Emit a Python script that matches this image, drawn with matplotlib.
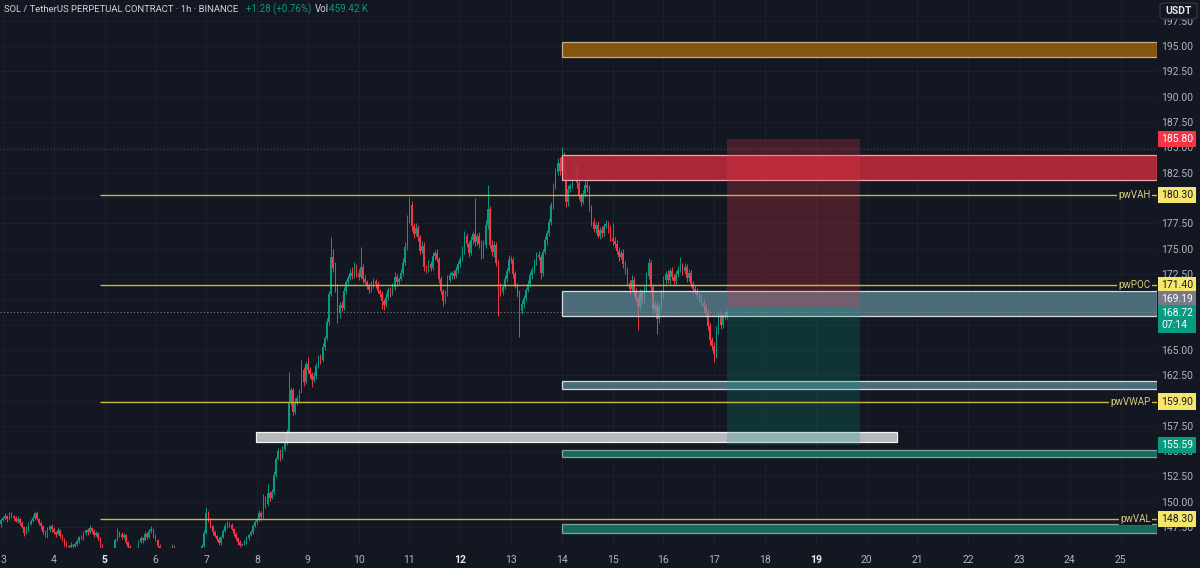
import numpy as np
import matplotlib
matplotlib.use("Agg")
import matplotlib.pyplot as plt
from matplotlib.patches import Rectangle, FancyBboxPatch

# ---- hourly candles, SOL/USDT perp (closes, wick lengths in tenths) ----
start_day = 2 + 22 / 24
first_open = 147.6

c02 = [147.8, 148.2]
u02 = [3, 2]
l02 = [2, 3]

c03 = [148.4, 148.6, 148.3, 148.8, 148.6, 148.4, 148.1, 148.3, 147.9, 147.5, 146.9, 147.3,
       147.8, 148.1, 148.4, 148.9, 148.3, 147.9, 147.6, 147.0, 146.6, 147.2, 147.6, 147.3]
u03 = [2, 3, 1, 2, 2, 1, 2, 3, 1, 2, 1, 3, 2, 2, 3, 1, 2, 1, 2, 1, 2, 3, 1, 2]
l03 = [1, 2, 3, 1, 2, 3, 1, 2, 2, 1, 3, 1, 2, 1, 1, 2, 1, 2, 3, 2, 1, 2, 2, 3]

c04 = [147.0, 146.8, 147.2, 146.6, 146.3, 145.9, 145.6, 145.5, 145.7, 145.6, 145.8, 146.1,
       146.5, 146.4, 146.9, 147.2, 147.0, 147.4, 147.1, 146.7, 146.9, 146.4, 145.6, 145.0]
u04 = [2, 1, 3, 1, 2, 1, 2, 1, 3, 1, 2, 2, 1, 2, 2, 1, 2, 3, 1, 2, 2, 1, 1, 2]
l04 = [2, 3, 1, 2, 2, 3, 1, 2, 1, 2, 1, 2, 2, 1, 2, 2, 3, 1, 2, 2, 1, 3, 2, 1]

c05 = [144.7, 144.5, 144.8, 144.6, 145.1, 146.2, 147.0, 146.8, 146.5, 146.7, 146.0, 145.5,
       144.9, 144.6, 144.8, 145.2, 146.0, 146.4, 146.2, 146.8, 146.5, 147.1, 147.3, 146.6]
u05 = [1, 2, 2, 1, 3, 2, 4, 1, 2, 2, 1, 1, 2, 1, 2, 3, 2, 2, 1, 3, 2, 2, 3, 1]
l05 = [2, 1, 2, 2, 1, 2, 1, 3, 2, 1, 2, 2, 1, 2, 1, 1, 2, 1, 3, 1, 2, 1, 2, 2]

c06 = [146.2, 145.6, 145.0, 144.6, 144.3, 144.5, 144.8, 145.2, 145.6, 145.0, 144.6, 144.3,
       144.1, 144.4, 144.2, 144.0, 143.8, 144.1, 144.3, 144.0, 144.3, 144.8, 145.6, 146.9]
u06 = [2, 1, 2, 1, 2, 2, 1, 3, 2, 1, 2, 1, 2, 2, 1, 2, 1, 2, 2, 1, 2, 3, 2, 3]
l06 = [1, 2, 2, 3, 1, 2, 2, 1, 2, 2, 1, 2, 1, 1, 2, 1, 2, 1, 2, 2, 1, 1, 2, 1]

c07 = [148.9, 148.2, 147.6, 147.0, 146.6, 146.3, 145.9, 146.5, 147.1, 147.6, 147.9, 147.7,
       147.3, 146.8, 146.4, 146.0, 145.7, 145.8, 146.0, 146.4, 146.7, 147.0, 147.6, 148.0]
u07 = [6, 2, 2, 1, 2, 1, 2, 1, 2, 3, 2, 1, 2, 1, 2, 1, 2, 1, 2, 2, 1, 2, 2, 2]
l07 = [1, 2, 2, 3, 1, 2, 2, 2, 1, 1, 2, 2, 1, 2, 2, 3, 2, 1, 1, 2, 2, 1, 2, 1]

c08 = [148.2, 148.9, 148.5, 150.3, 149.8, 150.9, 150.4, 151.0, 152.6, 154.2, 155.0, 154.4,
       155.2, 155.9, 156.8, 159.8, 161.0, 158.9, 159.8, 160.2, 160.9, 163.0, 161.8, 163.6]
u08 = [2, 3, 2, 5, 3, 9, 2, 3, 4, 2, 3, 2, 3, 2, 4, 30, 3, 2, 4, 3, 2, 10, 3, 3]
l08 = [2, 1, 3, 1, 4, 2, 3, 1, 2, 2, 1, 4, 2, 2, 3, 2, 3, 3, 2, 2, 3, 2, 4, 2]

c09 = [163.0, 162.6, 162.0, 162.4, 163.4, 164.3, 164.0, 165.3, 166.2, 167.8, 170.5, 174.2,
       173.1, 171.0, 168.6, 169.4, 169.1, 170.8, 171.7, 172.1, 172.6, 172.3, 173.2, 172.6]
u09 = [7, 3, 2, 4, 3, 2, 3, 4, 2, 3, 3, 19, 8, 6, 5, 3, 4, 4, 2, 3, 4, 6, 5, 3]
l09 = [3, 4, 7, 2, 3, 2, 4, 2, 3, 2, 3, 2, 4, 3, 9, 5, 3, 2, 3, 4, 2, 3, 2, 4]

c10 = [172.2, 173.2, 172.0, 171.7, 171.3, 170.9, 171.4, 171.8, 171.5, 170.8, 170.5, 169.8,
       169.4, 170.2, 170.9, 170.6, 171.2, 172.2, 171.7, 172.0, 172.6, 173.6, 175.2, 177.8]
u10 = [4, 20, 3, 4, 2, 3, 4, 3, 2, 3, 2, 3, 2, 4, 3, 3, 4, 5, 3, 2, 4, 5, 4, 5]
l10 = [3, 2, 4, 2, 3, 3, 2, 3, 4, 2, 3, 8, 5, 2, 3, 4, 2, 3, 4, 3, 2, 3, 2, 3]

c11 = [179.3, 177.2, 176.4, 177.0, 176.1, 174.8, 175.3, 173.2, 172.9, 173.5, 173.1, 174.3,
       174.6, 174.0, 172.0, 170.8, 169.8, 170.6, 171.9, 172.4, 172.6, 172.3, 172.9, 173.5]
u11 = [8, 4, 3, 5, 3, 2, 4, 3, 2, 4, 3, 4, 3, 4, 2, 3, 2, 3, 5, 3, 2, 3, 4, 3]
l11 = [3, 5, 4, 2, 4, 3, 2, 4, 3, 2, 3, 2, 4, 3, 4, 3, 5, 2, 3, 2, 4, 3, 2, 3]

c12 = [174.0, 174.9, 176.2, 175.5, 174.6, 175.8, 176.4, 175.6, 176.2, 175.5, 174.3, 175.4,
       177.3, 178.9, 175.4, 174.7, 175.4, 173.6, 171.2, 170.7, 171.2, 172.0, 172.8, 173.9]
u12 = [3, 4, 5, 3, 2, 4, 3, 36, 3, 4, 3, 4, 5, 24, 3, 4, 3, 2, 3, 4, 3, 4, 3, 5]
l12 = [3, 2, 4, 3, 4, 2, 3, 3, 2, 4, 3, 2, 3, 4, 3, 4, 5, 3, 29, 4, 3, 2, 3, 2]

c13 = [173.9, 172.5, 171.4, 170.6, 168.8, 169.5, 170.1, 170.9, 171.5, 172.4, 172.9, 173.6,
       174.4, 174.2, 172.6, 174.7, 175.8, 176.5, 177.6, 179.3, 181.2, 182.6, 183.4, 182.7]
u13 = [4, 3, 3, 2, 3, 4, 3, 2, 4, 3, 3, 4, 3, 4, 3, 3, 4, 3, 4, 3, 3, 4, 5, 6]
l13 = [3, 4, 3, 4, 25, 3, 4, 3, 2, 3, 4, 3, 2, 3, 6, 3, 2, 4, 3, 3, 4, 3, 3, 4]

c14 = [184.0, 182.8, 179.6, 180.9, 181.2, 182.6, 183.2, 181.5, 180.2, 179.6, 180.4, 181.3,
       181.0, 179.0, 177.6, 176.9, 177.3, 176.2, 176.8, 176.5, 177.2, 177.4, 176.9, 176.0]
u14 = [10, 5, 3, 4, 3, 5, 4, 3, 4, 3, 4, 5, 4, 3, 3, 4, 3, 4, 3, 4, 3, 4, 3, 4]
l14 = [4, 3, 5, 4, 3, 2, 4, 5, 3, 4, 2, 3, 4, 3, 4, 3, 4, 2, 3, 4, 3, 2, 4, 3]

c15 = [175.7, 175.5, 174.8, 174.2, 174.6, 173.5, 172.8, 171.6, 171.0, 171.9, 170.7, 170.0,
       169.2, 170.6, 169.9, 171.0, 172.3, 173.6, 171.2, 169.0, 169.4, 168.0, 169.2, 170.4]
u15 = [15, 4, 3, 4, 3, 4, 3, 4, 3, 5, 3, 4, 3, 4, 3, 4, 4, 5, 3, 3, 4, 3, 4, 5]
l15 = [3, 4, 3, 4, 2, 4, 3, 3, 5, 3, 4, 3, 22, 3, 4, 3, 2, 3, 4, 5, 3, 14, 3, 3]

c16 = [171.9, 172.5, 171.9, 172.8, 172.2, 171.8, 172.5, 172.9, 173.3, 172.8, 173.2, 172.1,
       172.6, 171.5, 171.0, 170.8, 170.4, 170.1, 169.6, 169.2, 168.5, 167.4, 166.0, 165.4]
u16 = [4, 3, 4, 3, 4, 3, 3, 4, 9, 3, 4, 3, 4, 3, 3, 4, 3, 3, 4, 3, 3, 4, 3, 3]
l16 = [3, 4, 3, 4, 3, 4, 3, 3, 2, 4, 3, 4, 3, 3, 4, 3, 3, 4, 3, 4, 3, 4, 5, 4]

c17 = [164.6, 166.9, 168.4, 167.5, 168.2, 168.3, 168.72]
u17 = [4, 5, 3, 4, 3, 4, 2]
l17 = [8, 4, 3, 4, 3, 3, 3]

closes_by_day = [c02, c03, c04, c05, c06, c07, c08, c09, c10, c11, c12, c13, c14, c15, c16, c17]
upper_by_day = [u02, u03, u04, u05, u06, u07, u08, u09, u10, u11, u12, u13, u14, u15, u16, u17]
lower_by_day = [l02, l03, l04, l05, l06, l07, l08, l09, l10, l11, l12, l13, l14, l15, l16, l17]

# ---- drawings ----
levels = [("pwVAH", 180.30), ("pwPOC", 171.40), ("pwVWAP", 159.90), ("pwVAL", 148.30)]
level_start = 4.91

# (x0, x1, low, high, face, edge, alpha)
zones = [
    (14.0, None, 193.9, 195.4, '#85540f', '#bfae95', 1.0),
    (14.0, None, 181.8, 184.25, '#b8293b', '#e7a4ac', 0.92),
    (14.0, None, 168.35, 170.8, '#6e9fb0', '#d5dde0', 0.62),
    (14.0, None, 161.15, 161.95, '#6e9fb0', '#d5dde0', 0.62),
    (7.98, 20.6, 155.9, 156.9, '#cacbcf', '#f2f2f2', 0.9),
    (14.0, None, 154.45, 155.12, '#17695a', '#86a39f', 1.0),
    (14.0, None, 146.95, 147.82, '#17695a', '#86a39f', 1.0),
]

pos_x0, pos_x1 = 17.25, 19.87
stop_price, entry_price, target_price = 185.80, 169.19, 155.59
last_price = 168.72
high_line = 184.85

day_ticks = list(range(3, 26))
bold_days = [5, 12, 19]
price_ticks = np.arange(147.5, 197.6, 2.5)
hidden_prices = [160.0, 167.5, 170.0, 180.0]   # covered by the price badges

BG = '#131722'
GRID = '#1b1f2b'
TXT = '#b2b5be'
UP = '#089981'
DOWN = '#f23645'
LEVEL = '#cdb635'
FONT = ['Roboto', 'DejaVu Sans']
plt.rcParams['font.family'] = FONT

closes = np.concatenate([np.array(c, float) for c in closes_by_day])
up_w = np.concatenate([np.array(u, float) for u in upper_by_day]) / 10
dn_w = np.concatenate([np.array(l, float) for l in lower_by_day]) / 10
opens = np.concatenate([[first_open], closes[:-1]])
highs = np.maximum(opens, closes) + up_w
lows = np.minimum(opens, closes) - dn_w
xs = start_day + np.arange(len(closes)) / 24
colors = np.where(closes >= opens, UP, DOWN)

fig = plt.figure(figsize=(12, 5.68), dpi=100, facecolor=BG)
ax = fig.add_axes([0, 20 / 568, 1157 / 1200, 548 / 568], facecolor=BG)
x_lo, x_hi = 2.941, 25.717
ax.set_xlim(x_lo, x_hi)
ax.set_ylim(145.44, 199.54)

for s in ax.spines.values():
    s.set_visible(False)
ax.set_xticks(day_ticks)
ax.set_xticklabels([str(d) for d in day_ticks])
ax.set_yticks(price_ticks)
ax.set_yticklabels(["" if any(abs(p - h) < 0.01 for h in hidden_prices) else f"{p:.2f}"
                    for p in price_ticks])
ax.yaxis.tick_right()
ax.tick_params(axis='both', length=0, colors=TXT, labelsize=7.5)
ax.tick_params(axis='y', pad=3)
ax.tick_params(axis='x', pad=5)
for lbl in ax.get_xticklabels():
    if int(lbl.get_text()) in bold_days:
        lbl.set_color('#e6e8ee')
        lbl.set_fontweight('bold')
ax.grid(True, color=GRID, lw=0.8)
ax.set_axisbelow(True)

# candles
ax.vlines(xs, lows, highs, colors=colors, lw=0.7, zorder=2)
ax.bar(xs, np.maximum(np.abs(closes - opens), 0.06), bottom=np.minimum(opens, closes),
       width=0.72 / 24, color=colors, linewidth=0, zorder=2)

# zones
for x0, x1, lo, hi, fc, ec, al in zones:
    x1 = x_hi if x1 is None else x1
    ax.add_patch(Rectangle((x0, lo), x1 - x0, hi - lo, facecolor=fc, edgecolor='none',
                           alpha=al, zorder=3))
    ax.add_patch(Rectangle((x0, lo), x1 - x0, hi - lo, facecolor='none', edgecolor=ec,
                           lw=0.9, zorder=3.1))

# position tool
ax.add_patch(Rectangle((pos_x0, entry_price), pos_x1 - pos_x0, stop_price - entry_price,
                       facecolor=DOWN, alpha=0.24, lw=0, zorder=4))
ax.add_patch(Rectangle((pos_x0, target_price), pos_x1 - pos_x0, entry_price - target_price,
                       facecolor=UP, alpha=0.22, lw=0, zorder=4))

# dotted price lines
ax.axhline(last_price, color='#7d818c', lw=0.8, ls=(0, (1, 2)), zorder=4)
ax.axhline(high_line, color='#4a4e5a', lw=0.8, ls=(0, (1, 2)), zorder=4)

# weekly levels
ytr = ax.get_yaxis_transform()
for name, p in levels:
    ax.hlines(p, level_start, x_hi, color=LEVEL, lw=1.0, zorder=5)
    ax.text(0.9948, p, name, transform=ytr, ha='right', va='center', fontsize=7,
            color='#d9cc7a', zorder=6,
            bbox=dict(boxstyle='square,pad=0.15', fc=BG, ec='none'))


def badge(p, s, fc, tc, dy=0):
    ax.annotate(s, xy=(1.0, p), xycoords=ytr, xytext=(3, dy), textcoords='offset points',
                ha='left', va='center', fontsize=7.5, color=tc, annotation_clip=False,
                zorder=10, bbox=dict(boxstyle='square,pad=0.3', fc=fc, ec='none'))


badge(stop_price, "185.80", DOWN, 'white')
for name, p in levels:
    badge(p, f"{p:.2f}", '#f7e66e', '#131722')
badge(entry_price, "169.19", '#787b86', 'white', dy=6)
badge(last_price, "168.72\n07:14", UP, 'white', dy=-5)
badge(target_price, "155.59", UP, 'white')

# USDT box
fig.patches.append(FancyBboxPatch((1160 / 1200, 1 - 19 / 568), 37 / 1200, 16 / 568,
                                  boxstyle='round,pad=0,rounding_size=0.004',
                                  transform=fig.transFigure, fc='#131722', ec='#363a45',
                                  lw=0.8, zorder=20))
fig.text(1178.5 / 1200, 1 - 11 / 568, "USDT", ha='center', va='center', fontsize=7.5,
         color='#e6e8ee', fontweight='bold', zorder=21)

# header
hy = 1 - 9 / 568
fig.text(4 / 1200, hy, "SOL / TetherUS PERPETUAL CONTRACT · 1h · BINANCE", ha='left',
         va='center', fontsize=6.8, color='#d1d4dc')
fig.text(246 / 1200, hy, "+1.28 (+0.76%)", ha='left', va='center', fontsize=7, color=UP)
fig.text(315 / 1200, hy, "Vol", ha='left', va='center', fontsize=7, color='#d1d4dc')
fig.text(329 / 1200, hy, "459.42 K", ha='left', va='center', fontsize=7, color=UP)

fig.savefig("out.png", dpi=100, facecolor=BG)
